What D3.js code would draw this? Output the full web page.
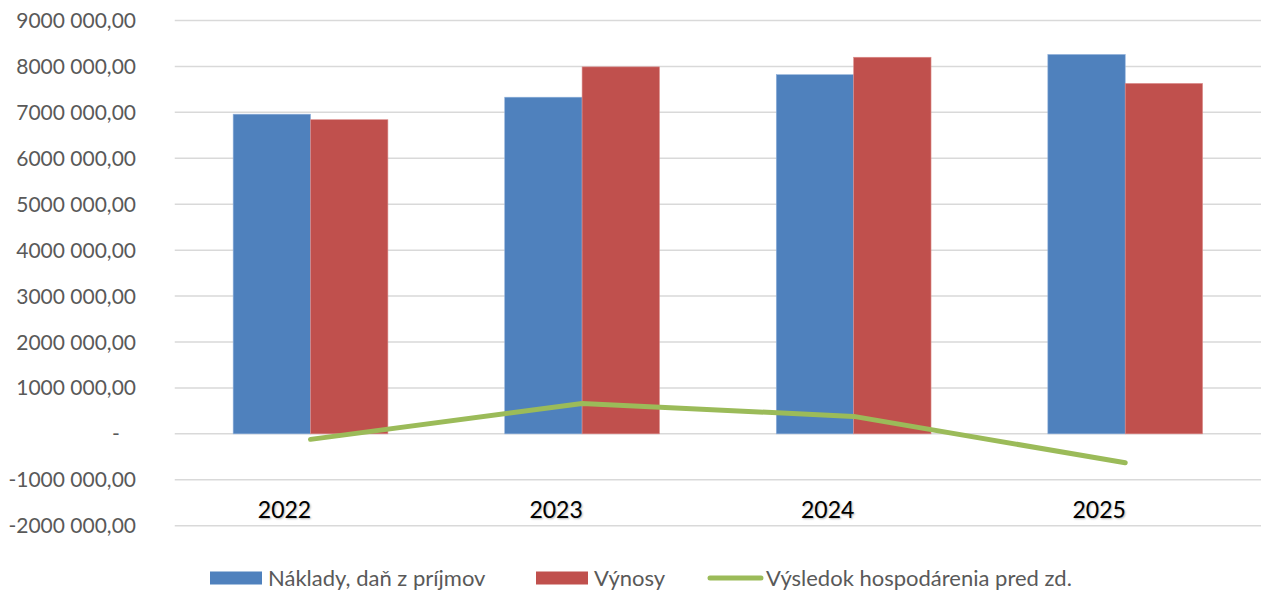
<!DOCTYPE html>
<html>
<head>
<meta charset="utf-8">
<script src="https://cdn.jsdelivr.net/npm/d3@7"></script>
<style>
  html, body { margin: 0; padding: 0; background: #fff; }
  svg { display: block; }
  .tick-label { font-family: Lato, "Open Sans", sans-serif; font-size: 21px; fill: #595959; }
  .year-label { font-family: Lato, "Open Sans", sans-serif; font-size: 23px; font-weight: normal; fill: #000;
                text-shadow: 1px 1px 2px rgba(0,0,0,0.3); }
  .legend-label { font-family: Lato, "Open Sans", sans-serif; font-size: 22px; fill: #595959; }
</style>
</head>
<body>
<svg id="chart" width="1261" height="594"></svg>
<script>
const categories = ["2022", "2023", "2024", "2025"];
const naklady = [6960000, 7330000, 7820000, 8260000];
const vynosy = [6840000, 7990000, 8200000, 7630000];
const vysledok = [-120000, 660000, 380000, -630000];
const tickValues = [-2000000, -1000000, 0, 1000000, 2000000, 3000000, 4000000, 5000000, 6000000, 7000000, 8000000, 9000000];
const tickLabels = ["-2000 000,00", "-1000 000,00", "-   ", "1000 000,00", "2000 000,00", "3000 000,00", "4000 000,00", "5000 000,00", "6000 000,00", "7000 000,00", "8000 000,00", "9000 000,00"];
const seriesNames = ["Náklady, daň z príjmov", "Výnosy", "Výsledok hospodárenia pred zd."];
const colors = ["#4F81BD", "#C0504D", "#9BBB59"];

const svg = d3.select("#chart");
const plotLeft = 174.75, plotRight = 1261;

const x = d3.scaleBand().domain(categories).range([plotLeft, plotRight]).paddingInner(0).paddingOuter(0);
const y = d3.scaleLinear().domain([-2000000, 9000000]).range([525.7, 20.5]);
const sub = d3.scaleBand().domain([0, 1]).range([0, x.bandwidth()]).paddingInner(0).paddingOuter(0.755);

// gridlines
svg.append("g").selectAll("line").data(tickValues).join("line")
  .attr("x1", plotLeft).attr("x2", plotRight)
  .attr("y1", d => y(d)).attr("y2", d => y(d))
  .attr("stroke", "#d9d9d9").attr("stroke-width", 1.5);

// y tick labels
svg.append("g").selectAll("text").data(tickValues).join("text")
  .attr("class", "tick-label")
  .attr("x", 136).attr("y", d => y(d)).attr("dy", "0.36em")
  .attr("text-anchor", "end")
  .style("white-space", "pre")
  .text((d, i) => tickLabels[i]);

// bars
const seriesBars = [naklady, vynosy];
seriesBars.forEach((vals, s) => {
  svg.append("g").selectAll("rect").data(vals).join("rect")
    .attr("x", (d, i) => x(categories[i]) + sub(s))
    .attr("width", sub.bandwidth())
    .attr("y", d => y(Math.max(0, d)))
    .attr("height", d => Math.abs(y(d) - y(0)))
    .attr("fill", colors[s])
    .attr("stroke", s === 0 ? "#8fb0da" : "#dc8d8b")
    .attr("stroke-width", 0.6);
});

// line
const line = d3.line()
  .x((d, i) => x(categories[i]) + x.bandwidth() / 2)
  .y(d => y(d));
svg.append("path").datum(vysledok)
  .attr("d", line)
  .attr("fill", "none")
  .attr("stroke", colors[2])
  .attr("stroke-width", 5)
  .attr("stroke-linecap", "round")
  .attr("stroke-linejoin", "round");

// category labels
svg.append("g").selectAll("text").data(categories).join("text")
  .attr("class", "year-label")
  .attr("x", d => x(d) + x.bandwidth() / 2 - 26)
  .attr("y", 518)
  .attr("text-anchor", "middle")
  .text(d => d);

// legend
const lg = svg.append("g");
const legendX = [210, 536, 708];
const legendY = 578;
[0, 1].forEach(s => {
  lg.append("rect").attr("x", legendX[s]).attr("y", legendY - 6.5).attr("width", 52).attr("height", 13).attr("fill", colors[s]);
  lg.append("text").attr("class", "legend-label").attr("x", legendX[s] + 58).attr("y", legendY).attr("dy", "0.36em").text(seriesNames[s]);
});
lg.append("line").attr("x1", legendX[2] + 2).attr("x2", legendX[2] + 53).attr("y1", legendY).attr("y2", legendY)
  .attr("stroke", colors[2]).attr("stroke-width", 5).attr("stroke-linecap", "round");
lg.append("text").attr("class", "legend-label").attr("x", legendX[2] + 58).attr("y", legendY).attr("dy", "0.36em").text(seriesNames[2]);
</script>
</body>
</html>
